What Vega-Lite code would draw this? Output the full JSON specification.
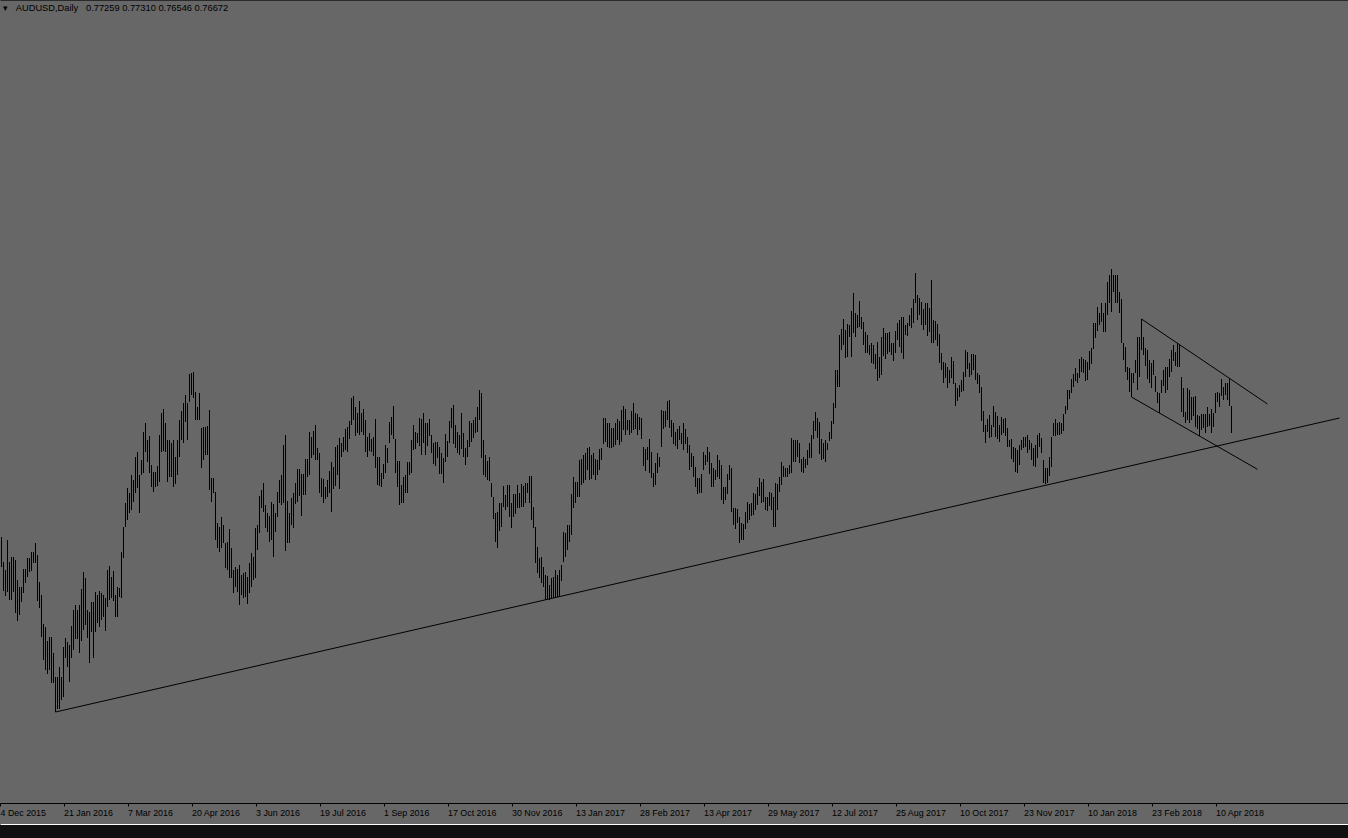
{
"$schema": "https://vega.github.io/schema/vega-lite/v6.json",
"width": 1348,
"height": 824,
"autosize": {"type": "none"},
"padding": {"left": 0, "top": 0, "right": 0, "bottom": 14},
"background": "#101010",
"config": {"view": {"fill": "#676767", "stroke": null}},
"title": {"text": "\u25be\u00a0\u00a0\u00a0AUDUSD,Daily\u00a0\u00a0\u00a00.77259 0.77310 0.76546 0.76672", "anchor": "start", "frame": "group", "orient": "top", "offset": -11, "dy": 9, "baseline": "alphabetic", "font": "Liberation Sans", "fontSize": 9.3, "fontWeight": "normal", "color": "#000000", "dx": 3},
"datasets": {
"bars": [
{"i":0,"h":0.7352,"l":0.7262},{"i":1,"h":0.7277,"l":0.7190},{"i":2,"h":0.7253,"l":0.7175},{"i":3,"h":0.7343,"l":0.7187},{"i":4,"h":0.7277,"l":0.7163},{"i":5,"h":0.7292,"l":0.7163},{"i":6,"h":0.7292,"l":0.7187},{"i":7,"h":0.7283,"l":0.7124},{"i":8,"h":0.7223,"l":0.7100},{"i":9,"h":0.7202,"l":0.7118},
{"i":10,"h":0.7202,"l":0.7157},{"i":11,"h":0.7256,"l":0.7184},{"i":12,"h":0.7256,"l":0.7214},{"i":13,"h":0.7289,"l":0.7232},{"i":14,"h":0.7289,"l":0.7247},{"i":15,"h":0.7307,"l":0.7250},{"i":16,"h":0.7307,"l":0.7274},{"i":17,"h":0.7334,"l":0.7274},{"i":18,"h":0.7298,"l":0.7160},{"i":19,"h":0.7217,"l":0.7139},
{"i":20,"h":0.7178,"l":0.7052},{"i":21,"h":0.7091,"l":0.6983},{"i":22,"h":0.7082,"l":0.6953},{"i":23,"h":0.7040,"l":0.6941},{"i":24,"h":0.7052,"l":0.6953},{"i":25,"h":0.7052,"l":0.6914},{"i":26,"h":0.7004,"l":0.6914},{"i":27,"h":0.6932,"l":0.6827},{"i":28,"h":0.6932,"l":0.6836},{"i":29,"h":0.6962,"l":0.6836},
{"i":30,"h":0.6932,"l":0.6863},{"i":31,"h":0.7022,"l":0.6872},{"i":32,"h":0.7049,"l":0.6989},{"i":33,"h":0.7037,"l":0.6962},{"i":34,"h":0.7028,"l":0.6917},{"i":35,"h":0.7085,"l":0.6989},{"i":36,"h":0.7133,"l":0.7013},{"i":37,"h":0.7148,"l":0.7046},{"i":38,"h":0.7133,"l":0.7046},{"i":39,"h":0.7148,"l":0.7004},
{"i":40,"h":0.7196,"l":0.7040},{"i":41,"h":0.7247,"l":0.7073},{"i":42,"h":0.7229,"l":0.7088},{"i":43,"h":0.7133,"l":0.7049},{"i":44,"h":0.7127,"l":0.6974},{"i":45,"h":0.7157,"l":0.7067},{"i":46,"h":0.7157,"l":0.6989},{"i":47,"h":0.7187,"l":0.7067},{"i":48,"h":0.7178,"l":0.7094},{"i":49,"h":0.7190,"l":0.7082},
{"i":50,"h":0.7184,"l":0.7103},{"i":51,"h":0.7178,"l":0.7112},{"i":52,"h":0.7169,"l":0.7070},{"i":53,"h":0.7253,"l":0.7142},{"i":54,"h":0.7265,"l":0.7163},{"i":55,"h":0.7232,"l":0.7169},{"i":56,"h":0.7250,"l":0.7160},{"i":57,"h":0.7178,"l":0.7112},{"i":58,"h":0.7202,"l":0.7112},{"i":59,"h":0.7199,"l":0.7172},
{"i":60,"h":0.7307,"l":0.7169},{"i":61,"h":0.7382,"l":0.7289},{"i":62,"h":0.7454,"l":0.7382},{"i":63,"h":0.7499,"l":0.7403},{"i":64,"h":0.7484,"l":0.7424},{"i":65,"h":0.7538,"l":0.7433},{"i":66,"h":0.7523,"l":0.7457},{"i":67,"h":0.7592,"l":0.7484},{"i":68,"h":0.7607,"l":0.7499},{"i":69,"h":0.7538,"l":0.7424},
{"i":70,"h":0.7583,"l":0.7538},{"i":71,"h":0.7667,"l":0.7544},{"i":72,"h":0.7694,"l":0.7607},{"i":73,"h":0.7643,"l":0.7577},{"i":74,"h":0.7655,"l":0.7544},{"i":75,"h":0.7568,"l":0.7502},{"i":76,"h":0.7547,"l":0.7487},{"i":77,"h":0.7547,"l":0.7502},{"i":78,"h":0.7565,"l":0.7505},{"i":79,"h":0.7658,"l":0.7517},
{"i":80,"h":0.7724,"l":0.7607},{"i":81,"h":0.7736,"l":0.7610},{"i":82,"h":0.7694,"l":0.7607},{"i":83,"h":0.7643,"l":0.7517},{"i":84,"h":0.7643,"l":0.7532},{"i":85,"h":0.7634,"l":0.7532},{"i":86,"h":0.7643,"l":0.7502},{"i":87,"h":0.7592,"l":0.7511},{"i":88,"h":0.7643,"l":0.7538},{"i":89,"h":0.7703,"l":0.7592},
{"i":90,"h":0.7730,"l":0.7643},{"i":91,"h":0.7754,"l":0.7634},{"i":92,"h":0.7778,"l":0.7697},{"i":93,"h":0.7754,"l":0.7643},{"i":94,"h":0.7841,"l":0.7757},{"i":95,"h":0.7844,"l":0.7778},{"i":96,"h":0.7847,"l":0.7769},{"i":97,"h":0.7787,"l":0.7703},{"i":98,"h":0.7742,"l":0.7703},{"i":99,"h":0.7784,"l":0.7703},
{"i":100,"h":0.7679,"l":0.7559},{"i":101,"h":0.7682,"l":0.7583},{"i":102,"h":0.7682,"l":0.7598},{"i":103,"h":0.7685,"l":0.7598},{"i":104,"h":0.7733,"l":0.7493},{"i":105,"h":0.7529,"l":0.7457},{"i":106,"h":0.7529,"l":0.7484},{"i":107,"h":0.7487,"l":0.7343},{"i":108,"h":0.7394,"l":0.7319},{"i":109,"h":0.7382,"l":0.7307},
{"i":110,"h":0.7412,"l":0.7319},{"i":111,"h":0.7388,"l":0.7334},{"i":112,"h":0.7334,"l":0.7259},{"i":113,"h":0.7337,"l":0.7253},{"i":114,"h":0.7376,"l":0.7229},{"i":115,"h":0.7319,"l":0.7229},{"i":116,"h":0.7253,"l":0.7184},{"i":117,"h":0.7262,"l":0.7202},{"i":118,"h":0.7256,"l":0.7187},{"i":119,"h":0.7268,"l":0.7148},
{"i":120,"h":0.7238,"l":0.7178},{"i":121,"h":0.7244,"l":0.7169},{"i":122,"h":0.7247,"l":0.7172},{"i":123,"h":0.7232,"l":0.7151},{"i":124,"h":0.7274,"l":0.7184},{"i":125,"h":0.7304,"l":0.7202},{"i":126,"h":0.7292,"l":0.7223},{"i":127,"h":0.7379,"l":0.7229},{"i":128,"h":0.7388,"l":0.7313},{"i":129,"h":0.7475,"l":0.7364},
{"i":130,"h":0.7493,"l":0.7439},{"i":131,"h":0.7514,"l":0.7427},{"i":132,"h":0.7448,"l":0.7379},{"i":133,"h":0.7424,"l":0.7367},{"i":134,"h":0.7415,"l":0.7337},{"i":135,"h":0.7457,"l":0.7343},{"i":136,"h":0.7451,"l":0.7292},{"i":137,"h":0.7424,"l":0.7367},{"i":138,"h":0.7487,"l":0.7412},{"i":139,"h":0.7523,"l":0.7454},
{"i":140,"h":0.7538,"l":0.7448},{"i":141,"h":0.7628,"l":0.7454},{"i":142,"h":0.7658,"l":0.7310},{"i":143,"h":0.7460,"l":0.7334},{"i":144,"h":0.7424,"l":0.7334},{"i":145,"h":0.7469,"l":0.7388},{"i":146,"h":0.7484,"l":0.7379},{"i":147,"h":0.7514,"l":0.7451},{"i":148,"h":0.7556,"l":0.7457},{"i":149,"h":0.7556,"l":0.7475},
{"i":150,"h":0.7541,"l":0.7415},{"i":151,"h":0.7541,"l":0.7478},{"i":152,"h":0.7586,"l":0.7478},{"i":153,"h":0.7586,"l":0.7532},{"i":154,"h":0.7667,"l":0.7538},{"i":155,"h":0.7652,"l":0.7589},{"i":156,"h":0.7670,"l":0.7598},{"i":157,"h":0.7688,"l":0.7583},{"i":158,"h":0.7619,"l":0.7583},{"i":159,"h":0.7604,"l":0.7484},
{"i":160,"h":0.7529,"l":0.7472},{"i":161,"h":0.7526,"l":0.7454},{"i":162,"h":0.7502,"l":0.7466},{"i":163,"h":0.7523,"l":0.7472},{"i":164,"h":0.7550,"l":0.7484},{"i":165,"h":0.7577,"l":0.7427},{"i":166,"h":0.7562,"l":0.7496},{"i":167,"h":0.7622,"l":0.7505},{"i":168,"h":0.7628,"l":0.7538},{"i":169,"h":0.7649,"l":0.7496},
{"i":170,"h":0.7634,"l":0.7592},{"i":171,"h":0.7652,"l":0.7607},{"i":172,"h":0.7676,"l":0.7613},{"i":173,"h":0.7682,"l":0.7607},{"i":174,"h":0.7700,"l":0.7646},{"i":175,"h":0.7769,"l":0.7688},{"i":176,"h":0.7775,"l":0.7703},{"i":177,"h":0.7742,"l":0.7655},{"i":178,"h":0.7724,"l":0.7664},{"i":179,"h":0.7760,"l":0.7658},
{"i":180,"h":0.7724,"l":0.7667},{"i":181,"h":0.7736,"l":0.7658},{"i":182,"h":0.7703,"l":0.7607},{"i":183,"h":0.7652,"l":0.7592},{"i":184,"h":0.7664,"l":0.7610},{"i":185,"h":0.7646,"l":0.7607},{"i":186,"h":0.7652,"l":0.7595},{"i":187,"h":0.7706,"l":0.7559},{"i":188,"h":0.7592,"l":0.7508},{"i":189,"h":0.7592,"l":0.7505},
{"i":190,"h":0.7544,"l":0.7502},{"i":191,"h":0.7571,"l":0.7526},{"i":192,"h":0.7628,"l":0.7544},{"i":193,"h":0.7619,"l":0.7574},{"i":194,"h":0.7697,"l":0.7634},{"i":195,"h":0.7712,"l":0.7658},{"i":196,"h":0.7745,"l":0.7646},{"i":197,"h":0.7646,"l":0.7544},{"i":198,"h":0.7580,"l":0.7502},{"i":199,"h":0.7580,"l":0.7448},
{"i":200,"h":0.7508,"l":0.7454},{"i":201,"h":0.7532,"l":0.7454},{"i":202,"h":0.7538,"l":0.7484},{"i":203,"h":0.7577,"l":0.7484},{"i":204,"h":0.7577,"l":0.7538},{"i":205,"h":0.7643,"l":0.7544},{"i":206,"h":0.7688,"l":0.7613},{"i":207,"h":0.7667,"l":0.7616},{"i":208,"h":0.7664,"l":0.7634},{"i":209,"h":0.7709,"l":0.7625},
{"i":210,"h":0.7706,"l":0.7598},{"i":211,"h":0.7724,"l":0.7634},{"i":212,"h":0.7694,"l":0.7598},{"i":213,"h":0.7694,"l":0.7625},{"i":214,"h":0.7706,"l":0.7655},{"i":215,"h":0.7658,"l":0.7604},{"i":216,"h":0.7634,"l":0.7571},{"i":217,"h":0.7637,"l":0.7565},{"i":218,"h":0.7637,"l":0.7589},{"i":219,"h":0.7622,"l":0.7541},
{"i":220,"h":0.7604,"l":0.7541},{"i":221,"h":0.7589,"l":0.7514},{"i":222,"h":0.7661,"l":0.7577},{"i":223,"h":0.7640,"l":0.7592},{"i":224,"h":0.7700,"l":0.7634},{"i":225,"h":0.7739,"l":0.7679},{"i":226,"h":0.7748,"l":0.7631},{"i":227,"h":0.7688,"l":0.7619},{"i":228,"h":0.7667,"l":0.7604},{"i":229,"h":0.7658,"l":0.7598},
{"i":230,"h":0.7724,"l":0.7616},{"i":231,"h":0.7664,"l":0.7592},{"i":232,"h":0.7619,"l":0.7568},{"i":233,"h":0.7643,"l":0.7592},{"i":234,"h":0.7700,"l":0.7622},{"i":235,"h":0.7694,"l":0.7637},{"i":236,"h":0.7703,"l":0.7649},{"i":237,"h":0.7712,"l":0.7664},{"i":238,"h":0.7742,"l":0.7667},{"i":239,"h":0.7793,"l":0.7703},
{"i":240,"h":0.7784,"l":0.7589},{"i":241,"h":0.7643,"l":0.7538},{"i":242,"h":0.7598,"l":0.7532},{"i":243,"h":0.7580,"l":0.7523},{"i":244,"h":0.7592,"l":0.7520},{"i":245,"h":0.7514,"l":0.7472},{"i":246,"h":0.7472,"l":0.7406},{"i":247,"h":0.7424,"l":0.7337},{"i":248,"h":0.7427,"l":0.7319},{"i":249,"h":0.7454,"l":0.7370},
{"i":250,"h":0.7454,"l":0.7382},{"i":251,"h":0.7505,"l":0.7442},{"i":252,"h":0.7478,"l":0.7433},{"i":253,"h":0.7508,"l":0.7442},{"i":254,"h":0.7508,"l":0.7412},{"i":255,"h":0.7454,"l":0.7379},{"i":256,"h":0.7481,"l":0.7412},{"i":257,"h":0.7481,"l":0.7421},{"i":258,"h":0.7508,"l":0.7439},{"i":259,"h":0.7484,"l":0.7439},
{"i":260,"h":0.7511,"l":0.7442},{"i":261,"h":0.7505,"l":0.7442},{"i":262,"h":0.7514,"l":0.7454},{"i":263,"h":0.7514,"l":0.7484},{"i":264,"h":0.7535,"l":0.7454},{"i":265,"h":0.7535,"l":0.7403},{"i":266,"h":0.7442,"l":0.7379},{"i":267,"h":0.7382,"l":0.7274},{"i":268,"h":0.7322,"l":0.7244},{"i":269,"h":0.7289,"l":0.7229},
{"i":270,"h":0.7292,"l":0.7214},{"i":271,"h":0.7262,"l":0.7202},{"i":272,"h":0.7238,"l":0.7163},{"i":273,"h":0.7235,"l":0.7166},{"i":274,"h":0.7208,"l":0.7163},{"i":275,"h":0.7229,"l":0.7169},{"i":276,"h":0.7232,"l":0.7169},{"i":277,"h":0.7253,"l":0.7172},{"i":278,"h":0.7238,"l":0.7172},{"i":279,"h":0.7253,"l":0.7172},
{"i":280,"h":0.7268,"l":0.7220},{"i":281,"h":0.7367,"l":0.7277},{"i":282,"h":0.7364,"l":0.7292},{"i":283,"h":0.7388,"l":0.7313},{"i":284,"h":0.7388,"l":0.7337},{"i":285,"h":0.7481,"l":0.7358},{"i":286,"h":0.7532,"l":0.7439},{"i":287,"h":0.7517,"l":0.7454},{"i":288,"h":0.7517,"l":0.7472},{"i":289,"h":0.7583,"l":0.7472},
{"i":290,"h":0.7586,"l":0.7508},{"i":291,"h":0.7598,"l":0.7514},{"i":292,"h":0.7604,"l":0.7523},{"i":293,"h":0.7619,"l":0.7553},{"i":294,"h":0.7622,"l":0.7523},{"i":295,"h":0.7598,"l":0.7526},{"i":296,"h":0.7604,"l":0.7538},{"i":297,"h":0.7586,"l":0.7523},{"i":298,"h":0.7583,"l":0.7538},{"i":299,"h":0.7616,"l":0.7553},
{"i":300,"h":0.7619,"l":0.7583},{"i":301,"h":0.7709,"l":0.7631},{"i":302,"h":0.7709,"l":0.7637},{"i":303,"h":0.7694,"l":0.7622},{"i":304,"h":0.7694,"l":0.7619},{"i":305,"h":0.7679,"l":0.7619},{"i":306,"h":0.7679,"l":0.7622},{"i":307,"h":0.7694,"l":0.7628},{"i":308,"h":0.7706,"l":0.7643},{"i":309,"h":0.7700,"l":0.7628},
{"i":310,"h":0.7733,"l":0.7637},{"i":311,"h":0.7745,"l":0.7673},{"i":312,"h":0.7736,"l":0.7658},{"i":313,"h":0.7703,"l":0.7673},{"i":314,"h":0.7703,"l":0.7658},{"i":315,"h":0.7730,"l":0.7664},{"i":316,"h":0.7754,"l":0.7673},{"i":317,"h":0.7724,"l":0.7676},{"i":318,"h":0.7721,"l":0.7658},{"i":319,"h":0.7712,"l":0.7673},
{"i":320,"h":0.7709,"l":0.7646},{"i":321,"h":0.7622,"l":0.7565},{"i":322,"h":0.7616,"l":0.7550},{"i":323,"h":0.7622,"l":0.7583},{"i":324,"h":0.7646,"l":0.7544},{"i":325,"h":0.7607,"l":0.7529},{"i":326,"h":0.7544,"l":0.7502},{"i":327,"h":0.7574,"l":0.7508},{"i":328,"h":0.7604,"l":0.7544},{"i":329,"h":0.7592,"l":0.7562},
{"i":330,"h":0.7733,"l":0.7622},{"i":331,"h":0.7730,"l":0.7676},{"i":332,"h":0.7730,"l":0.7682},{"i":333,"h":0.7760,"l":0.7703},{"i":334,"h":0.7763,"l":0.7679},{"i":335,"h":0.7703,"l":0.7652},{"i":336,"h":0.7694,"l":0.7631},{"i":337,"h":0.7667,"l":0.7625},{"i":338,"h":0.7676,"l":0.7616},{"i":339,"h":0.7685,"l":0.7643},
{"i":340,"h":0.7664,"l":0.7631},{"i":341,"h":0.7694,"l":0.7613},{"i":342,"h":0.7676,"l":0.7631},{"i":343,"h":0.7652,"l":0.7604},{"i":344,"h":0.7628,"l":0.7553},{"i":345,"h":0.7604,"l":0.7562},{"i":346,"h":0.7595,"l":0.7532},{"i":347,"h":0.7562,"l":0.7502},{"i":348,"h":0.7529,"l":0.7481},{"i":349,"h":0.7529,"l":0.7484},
{"i":350,"h":0.7541,"l":0.7484},{"i":351,"h":0.7607,"l":0.7553},{"i":352,"h":0.7598,"l":0.7568},{"i":353,"h":0.7622,"l":0.7577},{"i":354,"h":0.7607,"l":0.7541},{"i":355,"h":0.7574,"l":0.7502},{"i":356,"h":0.7559,"l":0.7502},{"i":357,"h":0.7553,"l":0.7523},{"i":358,"h":0.7598,"l":0.7532},{"i":359,"h":0.7583,"l":0.7526},
{"i":360,"h":0.7568,"l":0.7463},{"i":361,"h":0.7502,"l":0.7451},{"i":362,"h":0.7502,"l":0.7463},{"i":363,"h":0.7541,"l":0.7481},{"i":364,"h":0.7568,"l":0.7523},{"i":365,"h":0.7559,"l":0.7427},{"i":366,"h":0.7439,"l":0.7388},{"i":367,"h":0.7439,"l":0.7376},{"i":368,"h":0.7436,"l":0.7394},{"i":369,"h":0.7412,"l":0.7334},
{"i":370,"h":0.7394,"l":0.7343},{"i":371,"h":0.7391,"l":0.7343},{"i":372,"h":0.7427,"l":0.7376},{"i":373,"h":0.7457,"l":0.7394},{"i":374,"h":0.7451,"l":0.7403},{"i":375,"h":0.7454,"l":0.7415},{"i":376,"h":0.7484,"l":0.7418},{"i":377,"h":0.7481,"l":0.7433},{"i":378,"h":0.7502,"l":0.7448},{"i":379,"h":0.7529,"l":0.7475},
{"i":380,"h":0.7517,"l":0.7454},{"i":381,"h":0.7526,"l":0.7457},{"i":382,"h":0.7472,"l":0.7433},{"i":383,"h":0.7472,"l":0.7430},{"i":384,"h":0.7487,"l":0.7445},{"i":385,"h":0.7484,"l":0.7433},{"i":386,"h":0.7472,"l":0.7382},{"i":387,"h":0.7514,"l":0.7382},{"i":388,"h":0.7511,"l":0.7433},{"i":389,"h":0.7532,"l":0.7487},
{"i":390,"h":0.7577,"l":0.7508},{"i":391,"h":0.7565,"l":0.7532},{"i":392,"h":0.7559,"l":0.7532},{"i":393,"h":0.7559,"l":0.7532},{"i":394,"h":0.7568,"l":0.7541},{"i":395,"h":0.7649,"l":0.7544},{"i":396,"h":0.7643,"l":0.7577},{"i":397,"h":0.7643,"l":0.7577},{"i":398,"h":0.7643,"l":0.7592},{"i":399,"h":0.7634,"l":0.7574},
{"i":400,"h":0.7586,"l":0.7547},{"i":401,"h":0.7592,"l":0.7544},{"i":402,"h":0.7586,"l":0.7559},{"i":403,"h":0.7613,"l":0.7568},{"i":404,"h":0.7634,"l":0.7589},{"i":405,"h":0.7658,"l":0.7589},{"i":406,"h":0.7700,"l":0.7646},{"i":407,"h":0.7727,"l":0.7670},{"i":408,"h":0.7709,"l":0.7649},{"i":409,"h":0.7697,"l":0.7601},
{"i":410,"h":0.7646,"l":0.7583},{"i":411,"h":0.7634,"l":0.7586},{"i":412,"h":0.7643,"l":0.7577},{"i":413,"h":0.7634,"l":0.7613},{"i":414,"h":0.7667,"l":0.7640},{"i":415,"h":0.7700,"l":0.7646},{"i":416,"h":0.7754,"l":0.7691},{"i":417,"h":0.7853,"l":0.7739},{"i":418,"h":0.7853,"l":0.7802},{"i":419,"h":0.7958,"l":0.7802},
{"i":420,"h":0.7976,"l":0.7913},{"i":421,"h":0.8006,"l":0.7928},{"i":422,"h":0.7973,"l":0.7889},{"i":423,"h":0.7991,"l":0.7892},{"i":424,"h":0.7988,"l":0.7952},{"i":425,"h":0.8030,"l":0.7892},{"i":426,"h":0.8084,"l":0.7964},{"i":427,"h":0.8024,"l":0.7952},{"i":428,"h":0.8018,"l":0.7979},{"i":429,"h":0.8060,"l":0.7982},
{"i":430,"h":0.8012,"l":0.7976},{"i":431,"h":0.7997,"l":0.7928},{"i":432,"h":0.7967,"l":0.7904},{"i":433,"h":0.7958,"l":0.7904},{"i":434,"h":0.7928,"l":0.7898},{"i":435,"h":0.7934,"l":0.7874},{"i":436,"h":0.7928,"l":0.7871},{"i":437,"h":0.7901,"l":0.7856},{"i":438,"h":0.7937,"l":0.7820},{"i":439,"h":0.7892,"l":0.7829},
{"i":440,"h":0.7952,"l":0.7838},{"i":441,"h":0.7979,"l":0.7895},{"i":442,"h":0.7964,"l":0.7886},{"i":443,"h":0.7964,"l":0.7901},{"i":444,"h":0.7967,"l":0.7907},{"i":445,"h":0.7934,"l":0.7898},{"i":446,"h":0.7934,"l":0.7880},{"i":447,"h":0.7970,"l":0.7904},{"i":448,"h":0.7994,"l":0.7943},{"i":449,"h":0.8003,"l":0.7922},
{"i":450,"h":0.8012,"l":0.7904},{"i":451,"h":0.8012,"l":0.7886},{"i":452,"h":0.7988,"l":0.7958},{"i":453,"h":0.7994,"l":0.7955},{"i":454,"h":0.8018,"l":0.7985},{"i":455,"h":0.8039,"l":0.7979},{"i":456,"h":0.8066,"l":0.7994},{"i":457,"h":0.8144,"l":0.8054},{"i":458,"h":0.8078,"l":0.8003},{"i":459,"h":0.8069,"l":0.8018},
{"i":460,"h":0.8057,"l":0.7988},{"i":461,"h":0.8036,"l":0.7973},{"i":462,"h":0.8054,"l":0.7988},{"i":463,"h":0.8054,"l":0.7955},{"i":464,"h":0.8039,"l":0.7967},{"i":465,"h":0.8123,"l":0.7934},{"i":466,"h":0.8003,"l":0.7934},{"i":467,"h":0.8000,"l":0.7943},{"i":468,"h":0.7991,"l":0.7925},{"i":469,"h":0.7961,"l":0.7874},
{"i":470,"h":0.7904,"l":0.7853},{"i":471,"h":0.7877,"l":0.7814},{"i":472,"h":0.7874,"l":0.7829},{"i":473,"h":0.7862,"l":0.7799},{"i":474,"h":0.7853,"l":0.7814},{"i":475,"h":0.7892,"l":0.7829},{"i":476,"h":0.7880,"l":0.7811},{"i":477,"h":0.7814,"l":0.7745},{"i":478,"h":0.7799,"l":0.7760},{"i":479,"h":0.7808,"l":0.7772},
{"i":480,"h":0.7823,"l":0.7787},{"i":481,"h":0.7847,"l":0.7790},{"i":482,"h":0.7913,"l":0.7832},{"i":483,"h":0.7907,"l":0.7856},{"i":484,"h":0.7874,"l":0.7832},{"i":485,"h":0.7901,"l":0.7838},{"i":486,"h":0.7901,"l":0.7853},{"i":487,"h":0.7898,"l":0.7823},{"i":488,"h":0.7844,"l":0.7811},{"i":489,"h":0.7838,"l":0.7784},
{"i":490,"h":0.7802,"l":0.7700},{"i":491,"h":0.7730,"l":0.7667},{"i":492,"h":0.7688,"l":0.7634},{"i":493,"h":0.7706,"l":0.7667},{"i":494,"h":0.7718,"l":0.7649},{"i":495,"h":0.7688,"l":0.7652},{"i":496,"h":0.7745,"l":0.7682},{"i":497,"h":0.7727,"l":0.7652},{"i":498,"h":0.7715,"l":0.7646},{"i":499,"h":0.7688,"l":0.7637},
{"i":500,"h":0.7712,"l":0.7658},{"i":501,"h":0.7706,"l":0.7664},{"i":502,"h":0.7709,"l":0.7655},{"i":503,"h":0.7679,"l":0.7622},{"i":504,"h":0.7643,"l":0.7622},{"i":505,"h":0.7646,"l":0.7586},{"i":506,"h":0.7622,"l":0.7577},{"i":507,"h":0.7619,"l":0.7547},{"i":508,"h":0.7613,"l":0.7544},{"i":509,"h":0.7628,"l":0.7568},
{"i":510,"h":0.7643,"l":0.7613},{"i":511,"h":0.7652,"l":0.7619},{"i":512,"h":0.7652,"l":0.7622},{"i":513,"h":0.7658,"l":0.7604},{"i":514,"h":0.7643,"l":0.7613},{"i":515,"h":0.7634,"l":0.7583},{"i":516,"h":0.7619,"l":0.7565},{"i":517,"h":0.7628,"l":0.7562},{"i":518,"h":0.7658,"l":0.7589},{"i":519,"h":0.7664,"l":0.7622},
{"i":520,"h":0.7649,"l":0.7604},{"i":521,"h":0.7583,"l":0.7514},{"i":522,"h":0.7559,"l":0.7511},{"i":523,"h":0.7559,"l":0.7514},{"i":524,"h":0.7592,"l":0.7535},{"i":525,"h":0.7652,"l":0.7562},{"i":526,"h":0.7694,"l":0.7655},{"i":527,"h":0.7706,"l":0.7655},{"i":528,"h":0.7694,"l":0.7658},{"i":529,"h":0.7697,"l":0.7658},
{"i":530,"h":0.7694,"l":0.7661},{"i":531,"h":0.7721,"l":0.7670},{"i":532,"h":0.7745,"l":0.7721},{"i":533,"h":0.7793,"l":0.7733},{"i":534,"h":0.7793,"l":0.7766},{"i":535,"h":0.7826,"l":0.7784},{"i":536,"h":0.7841,"l":0.7802},{"i":537,"h":0.7859,"l":0.7820},{"i":538,"h":0.7844,"l":0.7814},{"i":539,"h":0.7886,"l":0.7829},
{"i":540,"h":0.7892,"l":0.7847},{"i":541,"h":0.7886,"l":0.7844},{"i":542,"h":0.7883,"l":0.7820},{"i":543,"h":0.7877,"l":0.7823},{"i":544,"h":0.7910,"l":0.7853},{"i":545,"h":0.7919,"l":0.7871},{"i":546,"h":0.7994,"l":0.7916},{"i":547,"h":0.7994,"l":0.7949},{"i":548,"h":0.8042,"l":0.7970},{"i":549,"h":0.8024,"l":0.7988},
{"i":550,"h":0.8054,"l":0.7997},{"i":551,"h":0.8024,"l":0.7967},{"i":552,"h":0.8054,"l":0.7967},{"i":553,"h":0.8117,"l":0.8018},{"i":554,"h":0.8138,"l":0.8054},{"i":555,"h":0.8156,"l":0.8027},{"i":556,"h":0.8138,"l":0.8087},{"i":557,"h":0.8138,"l":0.8054},{"i":558,"h":0.8138,"l":0.8054},{"i":559,"h":0.8087,"l":0.8024},
{"i":560,"h":0.8066,"l":0.7934},{"i":561,"h":0.7934,"l":0.7883},{"i":562,"h":0.7922,"l":0.7847},{"i":563,"h":0.7862,"l":0.7823},{"i":564,"h":0.7859,"l":0.7787},{"i":565,"h":0.7844,"l":0.7772},{"i":566,"h":0.7844,"l":0.7814},{"i":567,"h":0.7883,"l":0.7844},{"i":568,"h":0.7952,"l":0.7793},{"i":569,"h":0.7952,"l":0.7832},
{"i":570,"h":0.8006,"l":0.7913},{"i":571,"h":0.7952,"l":0.7898},{"i":572,"h":0.7919,"l":0.7865},{"i":573,"h":0.7913,"l":0.7826},{"i":574,"h":0.7883,"l":0.7814},{"i":575,"h":0.7874,"l":0.7799},{"i":576,"h":0.7883,"l":0.7838},{"i":577,"h":0.7835,"l":0.7787},{"i":578,"h":0.7787,"l":0.7754},{"i":579,"h":0.7784,"l":0.7724},
{"i":580,"h":0.7823,"l":0.7784},{"i":581,"h":0.7853,"l":0.7805},{"i":582,"h":0.7862,"l":0.7784},{"i":583,"h":0.7862,"l":0.7793},{"i":584,"h":0.7886,"l":0.7832},{"i":585,"h":0.7913,"l":0.7847},{"i":586,"h":0.7928,"l":0.7880},{"i":587,"h":0.7907,"l":0.7865},{"i":588,"h":0.7934,"l":0.7862},{"i":589,"h":0.7928,"l":0.7862},
{"i":590,"h":0.7832,"l":0.7727},{"i":591,"h":0.7799,"l":0.7712},{"i":592,"h":0.7727,"l":0.7694},{"i":593,"h":0.7799,"l":0.7703},{"i":594,"h":0.7793,"l":0.7694},{"i":595,"h":0.7772,"l":0.7703},{"i":596,"h":0.7772,"l":0.7715},{"i":597,"h":0.7775,"l":0.7682},{"i":598,"h":0.7718,"l":0.7676},{"i":599,"h":0.7715,"l":0.7655},
{"i":600,"h":0.7721,"l":0.7673},{"i":601,"h":0.7721,"l":0.7679},{"i":602,"h":0.7721,"l":0.7664},{"i":603,"h":0.7742,"l":0.7682},{"i":604,"h":0.7721,"l":0.7685},{"i":605,"h":0.7736,"l":0.7664},{"i":606,"h":0.7724,"l":0.7682},{"i":607,"h":0.7784,"l":0.7724},{"i":608,"h":0.7787,"l":0.7757},{"i":609,"h":0.7784,"l":0.7742},
{"i":610,"h":0.7826,"l":0.7775},{"i":611,"h":0.7802,"l":0.7763},{"i":612,"h":0.7814,"l":0.7778},{"i":613,"h":0.7814,"l":0.7763},{"i":614,"h":0.7829,"l":0.7745},{"i":615,"h":0.7745,"l":0.7664}
],
"trend": [
{"line":"support","i":27,"p":0.6827},{"line":"support","i":669,"p":0.7709}
],
"channel": [
{"line":"upper","i":570,"p":0.8006},{"line":"upper","i":633,"p":0.7751},
{"line":"lower","i":565,"p":0.7772},{"line":"lower","i":628,"p":0.7555}
]
},
"layer": [
{
"data": {"name": "bars"},
"mark": {"type": "rule", "color": "#000000", "strokeWidth": 1},
"encoding": {
"x": {"field": "i", "type": "quantitative", "scale": {"domain": [-0.75, 673.25], "nice": false, "zero": false},
"axis": {"orient": "bottom", "offset": -21, "title": null, "grid": false, "values": [-0.75,31,63,95,127,159,191,223,255,287,319,351,383,415,447,479,511,543,575,607],
"labelExpr": "datum.value < 0 ? '4 Dec 2015' : ['4 Dec 2015','21 Jan 2016','7 Mar 2016','20 Apr 2016','3 Jun 2016','19 Jul 2016','1 Sep 2016','17 Oct 2016','30 Nov 2016','13 Jan 2017','28 Feb 2017','13 Apr 2017','29 May 2017','12 Jul 2017','25 Aug 2017','10 Oct 2017','23 Nov 2017','10 Jan 2018','23 Feb 2018','10 Apr 2018'][round((datum.value + 1) / 32)]",
"labelAlign": "left", "labelBaseline": "top", "labelPadding": 2, "labelFont": "Liberation Sans", "labelFontSize": 8.9, "labelColor": "#000000", "labelOverlap": false, "labelBound": false, "labelFlush": false,
"tickSize": 3, "tickColor": "#000000", "tickWidth": 1, "domainColor": "#000000", "domainWidth": 1}},
"y": {"field": "l", "type": "quantitative", "scale": {"domain": [0.6491, 0.8963], "nice": false, "zero": false}, "axis": null},
"y2": {"field": "h"}
}
},
{
"data": {"name": "trend"},
"mark": {"type": "line", "color": "#000000", "strokeWidth": 1},
"encoding": {
"x": {"field": "i", "type": "quantitative", "scale": {"domain": [-0.75, 673.25], "nice": false, "zero": false},
"axis": {"orient": "bottom", "offset": 0, "title": null, "grid": false, "labels": false, "ticks": false, "domainColor": "#ffffff", "domainWidth": 1}},
"y": {"field": "p", "type": "quantitative", "scale": {"domain": [0.6491, 0.8963], "nice": false, "zero": false}, "axis": null},
"detail": {"field": "line"}
}
},
{
"data": {"name": "channel"},
"mark": {"type": "line", "color": "#000000", "strokeWidth": 1},
"encoding": {
"x": {"field": "i", "type": "quantitative", "scale": {"domain": [-0.75, 673.25], "nice": false, "zero": false},
"axis": {"orient": "top", "offset": 0, "title": null, "grid": false, "labels": false, "ticks": false, "domainColor": "#2a2a2a", "domainWidth": 1}},
"y": {"field": "p", "type": "quantitative", "scale": {"domain": [0.6491, 0.8963], "nice": false, "zero": false}, "axis": null},
"detail": {"field": "line"}
}
}
],
"resolve": {"axis": {"x": "independent"}}
}
